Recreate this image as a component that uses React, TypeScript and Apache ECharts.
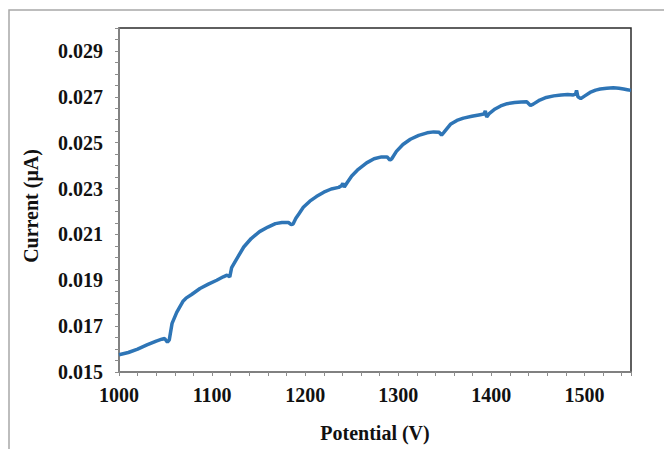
import React, { useEffect, useRef } from "react";
import * as echarts from "echarts";

const potential = [1000, 1010, 1020, 1030, 1040, 1046, 1049, 1052, 1054, 1057, 1062, 1069, 1072, 1078, 1087, 1096, 1105, 1112, 1116, 1119, 1121, 1126, 1134, 1142, 1151, 1160, 1168, 1175, 1182, 1185, 1187, 1190, 1193, 1198, 1205, 1212, 1220, 1228, 1236, 1239, 1240.5, 1242, 1245, 1250, 1256, 1266, 1274, 1282, 1288, 1291, 1293, 1298, 1305, 1313, 1322, 1331, 1338, 1344, 1346.5, 1349, 1356, 1363, 1370, 1379, 1388, 1392, 1393.5, 1395, 1398, 1404, 1410, 1417, 1425, 1432, 1438, 1442, 1445, 1452, 1459, 1467, 1475, 1482, 1488, 1490.5, 1491.5, 1493, 1496, 1500, 1506, 1512, 1517, 1524, 1531, 1537, 1542, 1546, 1550];

const current = [0.01575, 0.01585, 0.016, 0.01618, 0.01635, 0.01643, 0.01646, 0.0163, 0.0164, 0.01712, 0.0176, 0.0181, 0.01822, 0.01838, 0.01864, 0.01883, 0.019, 0.01915, 0.01922, 0.01915, 0.01955, 0.0199, 0.02045, 0.02082, 0.02112, 0.02132, 0.02147, 0.02152, 0.02152, 0.02143, 0.02145, 0.0217, 0.02188, 0.02218, 0.02245, 0.02265, 0.02284, 0.02298, 0.02305, 0.02312, 0.02322, 0.02306, 0.02325, 0.02355, 0.0238, 0.02412, 0.0243, 0.02438, 0.02438, 0.02424, 0.0243, 0.02462, 0.02492, 0.02515, 0.02532, 0.02543, 0.02547, 0.02545, 0.02533, 0.02545, 0.0258, 0.02597, 0.02607, 0.02615, 0.02622, 0.02625, 0.02638, 0.02612, 0.02628, 0.02647, 0.0266, 0.0267, 0.02675, 0.02677, 0.02678, 0.02662, 0.02668, 0.02686, 0.02697, 0.02704, 0.02708, 0.0271, 0.02708, 0.02712, 0.02728, 0.027, 0.02692, 0.02703, 0.02719, 0.02729, 0.02734, 0.02737, 0.02739, 0.02737, 0.02734, 0.02731, 0.02728];

const xTitle = "Potential (V)";
const yTitle = "Current (μA)";

const FONT = '"Liberation Serif", "Times New Roman", serif';

export default function App() {
  const ref = useRef<HTMLDivElement>(null);
  useEffect(() => {
    if (!ref.current) return;
    const chart = echarts.init(ref.current, undefined, { renderer: "svg" });
    const data = potential.map((v, i) => [v, current[i]]);
    chart.setOption({
      animation: false,
      backgroundColor: "#ffffff",
      grid: {
        left: 119,
        right: 33,
        top: 28,
        bottom: 77,
        show: true,
        borderColor: "#2b2b2b",
        borderWidth: 1.5,
      },
      xAxis: {
        type: "value",
        min: 1000,
        max: 1550,
        interval: 20,
        axisLine: { show: true, lineStyle: { color: "#8c8c8c", width: 1.5 } },
        axisTick: { show: true, length: 4, lineStyle: { color: "#8c8c8c" } },
        splitLine: { show: false },
        axisLabel: {
          margin: 13,
          color: "#111",
          fontFamily: FONT,
          fontWeight: "bold",
          fontSize: 20,
          formatter: (v: number) => (Math.round(v) % 100 === 0 && v < 1550 ? String(v) : ""),
        },
      },
      yAxis: {
        type: "value",
        min: 0.015,
        max: 0.03,
        interval: 0.0005,
        axisLine: { show: true, lineStyle: { color: "#8c8c8c", width: 1.5 } },
        axisTick: { show: true, length: 4, lineStyle: { color: "#8c8c8c" } },
        splitLine: { show: false },
        axisLabel: {
          margin: 16,
          color: "#111",
          fontFamily: FONT,
          fontWeight: "bold",
          fontSize: 20,
          formatter: (v: number) =>
            Math.round(v * 10000) % 20 === 10 ? v.toFixed(3) : "",
        },
      },
      graphic: [
        {
          type: "rect",
          shape: { x: 9, y: 10, width: 700, height: 500 },
          style: { fill: "none", stroke: "#a8a8a8", lineWidth: 1.5 },
          silent: true,
        },
        {
          type: "text",
          x: 375,
          y: 433,
          style: {
            text: xTitle,
            font: `bold 20px ${FONT}`,
            fill: "#111",
            textAlign: "center",
            textVerticalAlign: "middle",
          },
        },
        {
          type: "text",
          x: 31,
          y: 206,
          rotation: Math.PI / 2,
          style: {
            text: yTitle,
            font: `bold 20px ${FONT}`,
            fill: "#111",
            textAlign: "center",
            textVerticalAlign: "middle",
          },
        },
      ],
      series: [
        {
          type: "line",
          data,
          showSymbol: false,
          symbol: "none",
          smooth: false,
          lineStyle: { color: "#2e75b6", width: 3.5 },
        },
      ],
    });
    return () => chart.dispose();
  }, []);
  return (
    <div
      ref={ref}
      style={{ position: "fixed", left: 0, top: 0, width: 664, height: 449 }}
    />
  );
}
